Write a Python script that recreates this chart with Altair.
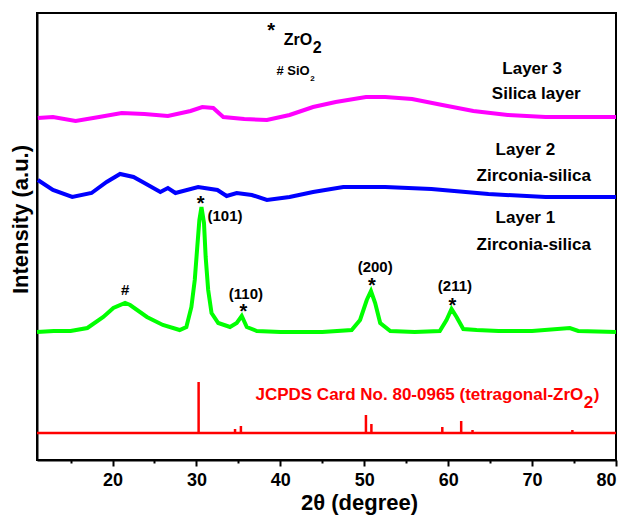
import altair as alt
import pandas as pd

FONT = "Liberation Sans"

# ---------- data ----------
# Layer 1 (green): 2theta, intensity (a.u.)
g_x = [11, 13, 15, 17, 18.9, 20.1, 21.5, 22.1, 24.1, 26, 28, 28.8, 29.4, 29.8, 30.1, 30.35, 30.6,
       30.9, 31.1, 31.4, 31.8, 32.6, 34.0, 34.8, 35.4, 36.0, 37.2, 40, 45, 48.5, 49.5, 50.3, 50.8,
       51.3, 51.9, 53.1, 56, 59.0, 59.8, 60.4, 61.0, 61.8, 63.4, 66, 70, 74.5, 75.5, 80]
g_y = [128, 129, 129, 132, 143, 152, 157, 155, 143, 135, 130, 133, 153, 180, 213, 240, 253,
       237, 203, 170, 147, 137, 133, 137, 144, 133, 129, 128, 128, 130, 140, 160, 169,
       157, 137, 129, 128, 129, 140, 151, 143, 131, 130, 129, 129, 132, 129, 128]

# Layer 2 (blue)
b_x = [11.1, 12.9, 15.2, 17.5, 19.3, 20.9, 22.5, 23.8, 25.7, 26.6, 27.5, 30.2, 32.5, 33.6, 34.8,
       36.6, 38.4, 41.1, 43.9, 47.5, 52.5, 58.0, 64.8, 71.6, 80]
b_y = [280, 270, 263, 267, 278, 286, 283, 277, 268, 272, 267, 273, 270, 264, 267,
       265, 260, 263, 268, 273, 273, 271, 266, 263, 263]

# Layer 3 (magenta)
m_x = [11.1, 12.9, 15.6, 18.4, 21.1, 23.8, 26.6, 29.3, 30.7, 32.0, 33.2, 35.7, 38.4, 41.1, 43.9,
       46.6, 50.2, 52.5, 55.7, 59.3, 63.0, 67.1, 71.6, 80]
m_y = [342, 343, 339, 343, 347, 346, 344, 349, 353, 352, 343, 341, 340, 345, 353,
       358, 363, 363, 361, 355, 349, 345, 343, 343]

# JCPDS 80-0965 reference sticks
ref_base = 27
ref_x = [30.26, 34.6, 35.3, 50.2, 50.85, 59.3, 61.55, 62.9, 74.8]
ref_top = [78, 31, 34, 45, 36, 33, 39, 30, 30]

# peak annotations
star_x = [30.5, 35.6, 50.9, 60.5]
star_y = [265.6, 157.6, 183.6, 163.6]
hkl_x = [33.4, 35.9, 51.3, 60.8]
hkl_y = [244, 166.5, 193, 174]
hkl_text = ["(101)", "(110)", "(200)", "(211)"]
hash_x = [21.5]
hash_y = [170]

layer_x = [70.0, 70.5, 69.2, 70.2, 69.2, 70.2]
layer_y = [391, 366, 310, 284, 242, 215]
layer_text = ["Layer 3", "Silica layer", "Layer 2", "Zirconia-silica", "Layer 1", "Zirconia-silica"]

# ---------- build tables ----------
series = pd.concat([
    pd.DataFrame({"x": g_x, "y": g_y, "s": "Layer 1"}),
    pd.DataFrame({"x": b_x, "y": b_y, "s": "Layer 2"}),
    pd.DataFrame({"x": m_x, "y": m_y, "s": "Layer 3"}),
])
ref_df = pd.DataFrame({"x": ref_x, "y": [ref_base] * len(ref_x), "y2": ref_top})
base_df = pd.DataFrame({"x": [11], "x2": [80], "y": [ref_base]})
star_df = pd.DataFrame({"x": star_x, "y": star_y, "t": ["*"] * len(star_x)})
hkl_df = pd.DataFrame({"x": hkl_x, "y": hkl_y, "t": hkl_text})
hash_df = pd.DataFrame({"x": hash_x, "y": hash_y, "t": ["#"]})
layer_df = pd.DataFrame({"x": layer_x, "y": layer_y, "t": layer_text})

xs = alt.Scale(domain=[11, 80], nice=False, zero=False)
ys = alt.Scale(domain=[0, 447], nice=False, zero=False)

xaxis = alt.Axis(
    values=[15, 20, 25, 30, 35, 40, 45, 50, 55, 60, 65, 70, 75, 80],
    labelExpr="datum.value % 10 === 0 ? datum.label : ''",
    tickSize={"condition": {"test": "datum.value % 10 === 0", "value": 6}, "value": 3},
    title="2θ (degree)", grid=False, labelFontSize=18, labelFontWeight="bold",
    titleFontSize=22, titleFontWeight="bold", labelFont=FONT, titleFont=FONT,
    domainColor="black", domainWidth=2, tickColor="black", tickWidth=2,
    labelColor="black", titleColor="black", labelPadding=5, titlePadding=3,
    titleX=322, labelOverlap=False,
)
yaxis = alt.Axis(
    title="Intensity (a.u.)", labels=False, ticks=False, grid=False,
    titleFontSize=22, titleFontWeight="bold", titleFont=FONT, titleColor="black",
    domainColor="black", domainWidth=2, titlePadding=5, titleY=206,
)

lines = alt.Chart(series).mark_line(strokeWidth=4).encode(
    x=alt.X("x:Q", scale=xs, axis=xaxis),
    y=alt.Y("y:Q", scale=ys, axis=yaxis),
    color=alt.Color("s:N", scale=alt.Scale(domain=["Layer 1", "Layer 2", "Layer 3"],
                                           range=["#00FF00", "#0000FF", "#FF00FF"]), legend=None),
    detail="s:N",
)

ref_base_rule = alt.Chart(base_df).mark_rule(color="#FF0000", strokeWidth=2.5).encode(
    x="x:Q", x2="x2:Q", y="y:Q")
ref_sticks = alt.Chart(ref_df).mark_rule(color="#FF0000", strokeWidth=2.5).encode(
    x="x:Q", y="y:Q", y2="y2:Q")

stars = alt.Chart(star_df).mark_text(font=FONT, fontSize=20, fontWeight="bold", color="black",
                                     baseline="top").encode(x="x:Q", y="y:Q", text="t:N")
hashes = alt.Chart(hash_df).mark_text(font=FONT, fontSize=15, fontWeight="bold", color="black").encode(
    x="x:Q", y="y:Q", text="t:N")
hkl = alt.Chart(hkl_df).mark_text(font=FONT, fontSize=15, fontWeight="bold", color="black").encode(
    x="x:Q", y="y:Q", text="t:N")
layers_txt = alt.Chart(layer_df).mark_text(font=FONT, fontSize=17, fontWeight="bold", color="black").encode(
    x="x:Q", y="y:Q", text="t:N")

# legend-like annotations
leg_df = pd.DataFrame({"x": [38.9], "y": [438.6], "t": ["*"]})
leg_star = alt.Chart(leg_df).mark_text(font=FONT, fontSize=20, fontWeight="bold", color="black",
                                       baseline="top").encode(x="x:Q", y="y:Q", text="t:N")
zro_df = pd.DataFrame({"x": [43.8], "y": [420], "t": ["ZrO"]})
zro = alt.Chart(zro_df).mark_text(font=FONT, fontSize=16, fontWeight="bold", color="black",
                                  align="right").encode(x="x:Q", y="y:Q", text="t:N")
zro2_df = pd.DataFrame({"x": [43.85], "y": [412], "t": ["2"]})
zro2 = alt.Chart(zro2_df).mark_text(font=FONT, fontSize=16, fontWeight="bold", color="black",
                                    align="left").encode(x="x:Q", y="y:Q", text="t:N")
sio_df = pd.DataFrame({"x": [43.5], "y": [389], "t": ["# SiO"]})
sio = alt.Chart(sio_df).mark_text(font=FONT, fontSize=13, fontWeight="bold", color="black",
                                  align="right").encode(x="x:Q", y="y:Q", text="t:N")
sio2_df = pd.DataFrame({"x": [43.55], "y": [381], "t": ["2"]})
sio2 = alt.Chart(sio2_df).mark_text(font=FONT, fontSize=8, fontWeight="bold", color="black",
                                    align="left").encode(x="x:Q", y="y:Q", text="t:N")

jc_df = pd.DataFrame({"x": [76.1], "y": [65], "t": ["JCPDS Card No. 80-0965 (tetragonal-ZrO"]})
jc = alt.Chart(jc_df).mark_text(font=FONT, fontSize=17, fontWeight="bold", color="#FF0000",
                                align="right").encode(x="x:Q", y="y:Q", text="t:N")
jc2_df = pd.DataFrame({"x": [76.15], "y": [57], "t": ["2"]})
jc2 = alt.Chart(jc2_df).mark_text(font=FONT, fontSize=17, fontWeight="bold", color="#FF0000",
                                  align="left").encode(x="x:Q", y="y:Q", text="t:N")
jc3_df = pd.DataFrame({"x": [77.35], "y": [65], "t": [")"]})
jc3 = alt.Chart(jc3_df).mark_text(font=FONT, fontSize=17, fontWeight="bold", color="#FF0000",
                                  align="left").encode(x="x:Q", y="y:Q", text="t:N")

chart = alt.layer(
    ref_base_rule, ref_sticks, lines, stars, hashes, hkl, layers_txt,
    leg_star, zro, zro2, sio, sio2, jc, jc2, jc3,
).properties(
    width=579, height=447,
    autosize=alt.AutoSizeParams(type="none"),
    padding={"left": 29, "top": 5, "right": 4, "bottom": 57},
).configure_view(stroke="black", strokeWidth=2)

chart.save("out.html", embed_options={"renderer": "svg", "actions": False})
